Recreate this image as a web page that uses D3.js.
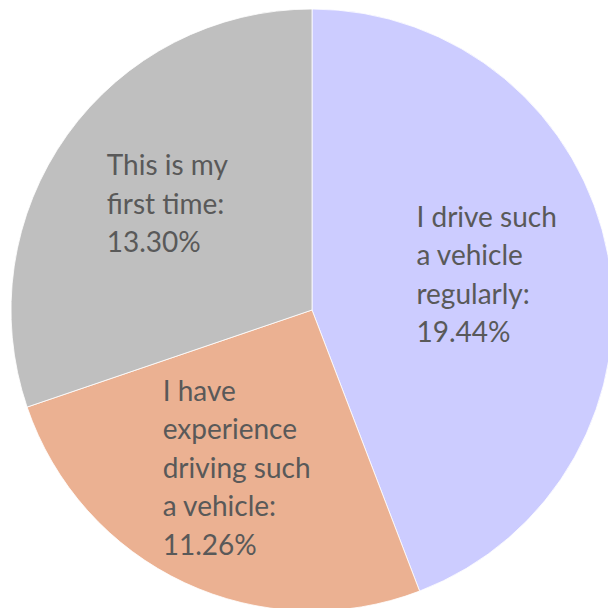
<!DOCTYPE html>
<html>
<head>
<meta charset="utf-8">
<script src="https://cdn.jsdelivr.net/npm/d3@7"></script>
<style>
  html, body { margin: 0; padding: 0; background: #fff; }
  svg { display: block; }
</style>
</head>
<body>
<svg id="chart" width="608" height="608"></svg>
<script>
// Survey responses: experience with the vehicle type
const categories = [
  "I drive such a vehicle regularly",
  "I have experience driving such a vehicle",
  "This is my first time"
];
const values = [19.44, 11.26, 13.30];
const labelLines = [
  ["I drive such", "a vehicle", "regularly:", "19.44%"],
  ["I have", "experience", "driving such", "a vehicle:", "11.26%"],
  ["This is my", "first time:", "13.30%"]
];
const colors = ["#CCCCFF", "#EBB192", "#BFBFBF"];

const svg = d3.select("#chart");
const cx = 312, cy = 310, R = 301;

const pie = d3.pie().sort(null).value(d => d)(values);
const arc = d3.arc().innerRadius(0).outerRadius(R);
const labelArc = d3.arc().innerRadius(R * 0.59).outerRadius(R * 0.59);

const g = svg.append("g").attr("transform", `translate(${cx},${cy})`);

g.selectAll("path.slice")
  .data(pie)
  .join("path")
  .attr("class", "slice")
  .attr("d", arc)
  .attr("fill", (d, i) => colors[i])
  .attr("stroke", "#ffffff")
  .attr("stroke-width", 0.8);

const lineH = 38.5;
const fontSize = 28;

pie.forEach((d, i) => {
  const [lx, ly] = labelArc.centroid(d);
  const lines = labelLines[i];
  const t = g.append("text")
    .attr("font-family", "Lato, 'Open Sans', sans-serif")
    .attr("font-size", fontSize)
    .attr("fill", "#595959");
  lines.forEach((s, k) => {
    t.append("tspan").attr("x", 0).attr("y", k * lineH).text(s);
  });
  // centre the text block on the slice centroid
  const bb = t.node().getBBox();
  const dx = lx - (bb.x + bb.width / 2);
  const dy = ly - (bb.y + bb.height / 2) - 4;
  t.attr("transform", `translate(${dx},${dy})`);
});
</script>
</body>
</html>
